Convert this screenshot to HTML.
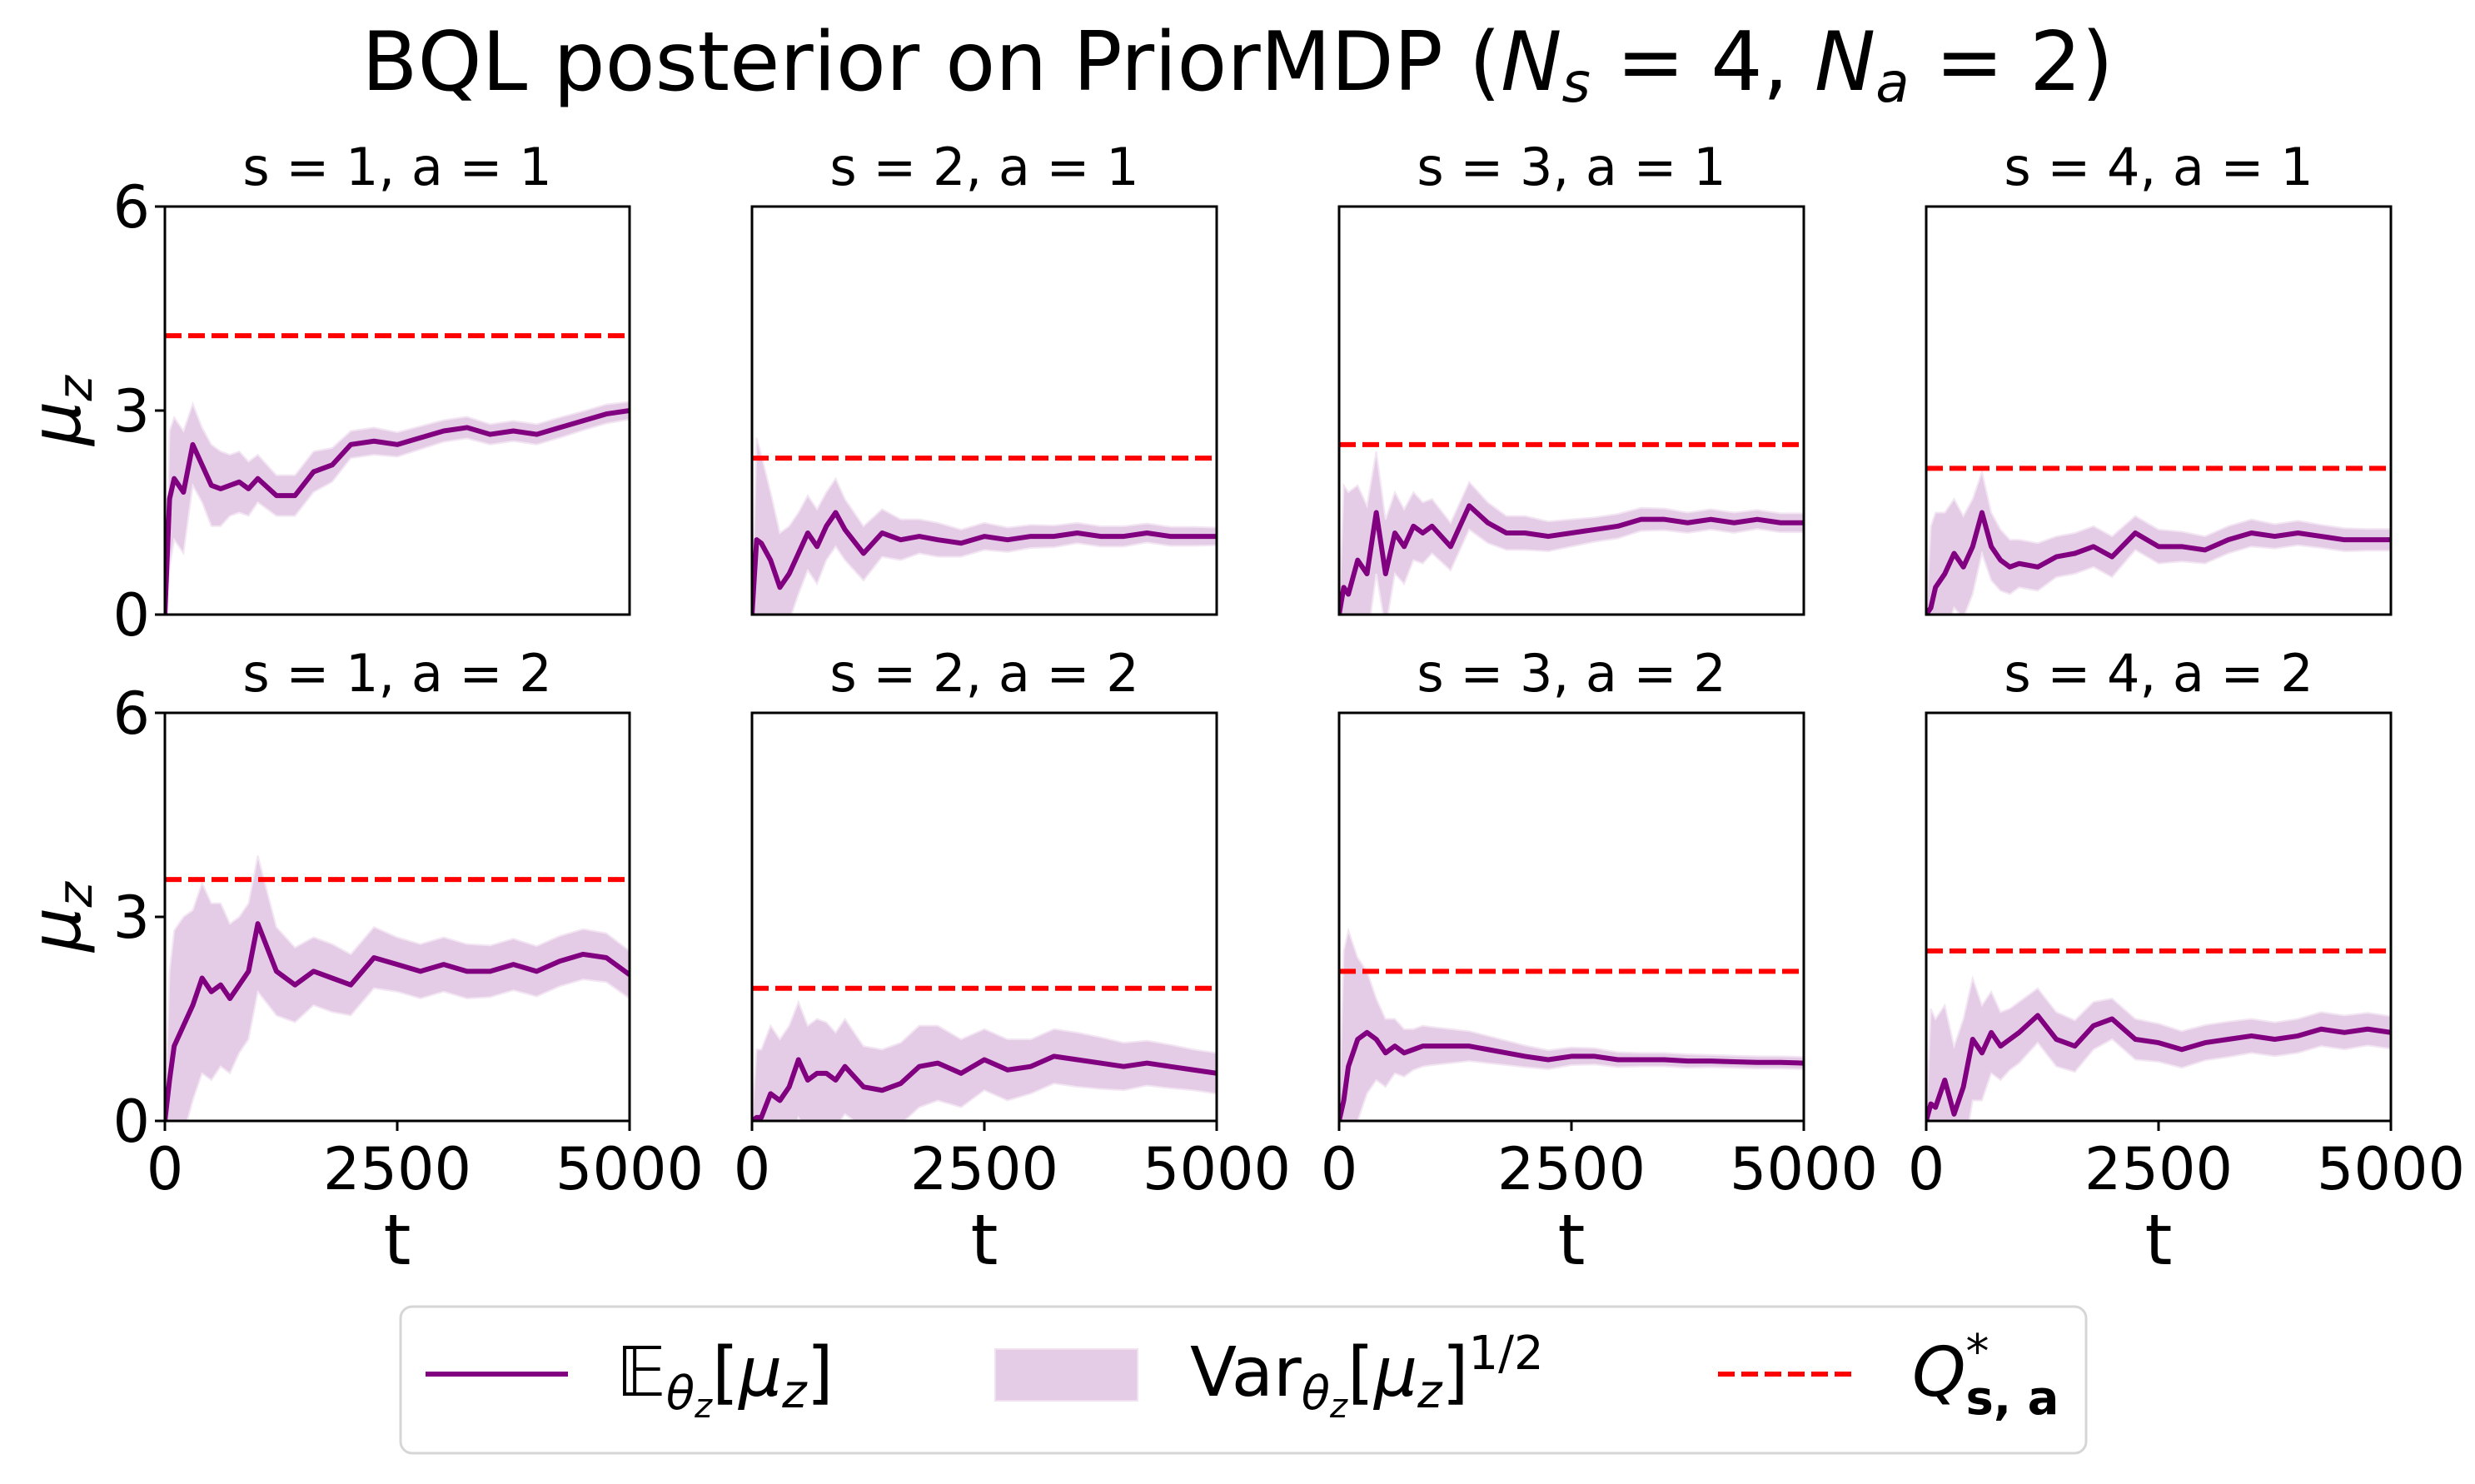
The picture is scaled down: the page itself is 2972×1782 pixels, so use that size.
<!DOCTYPE html>
<html><head><meta charset="utf-8"><style>
html,body{margin:0;padding:0;background:#fff}
svg{display:block;font-family:"DejaVu Sans","Liberation Sans",sans-serif}
</style></head><body>
<svg id="fig" width="2972" height="1782" viewBox="0 0 2972 1782">
<text x="1486" y="108" font-size="98" text-anchor="middle">BQL posterior on PriorMDP (<tspan font-style="italic">N</tspan><tspan font-style="italic" font-size="66" dy="14">s</tspan><tspan dy="-14"> = 4, </tspan><tspan font-style="italic">N</tspan><tspan font-style="italic" font-size="66" dy="14">a</tspan><tspan dy="-14"> = 2)</tspan></text>
<g id="panels"></g>
<g>
<rect x="481" y="1569" width="2024" height="176" rx="14" fill="#fff" stroke="#d6d6d6" stroke-width="3"/>
<line x1="511" y1="1650" x2="682" y2="1650" stroke="#800080" stroke-width="6"/>
<text x="740" y="1676" font-size="82"><tspan font-style="italic">𝔼</tspan><tspan font-style="italic" font-size="56" dy="16">θ</tspan><tspan font-style="italic" font-size="40" dy="10">z</tspan><tspan dy="-26">[</tspan><tspan font-style="italic">μ</tspan><tspan font-style="italic" font-size="56" dy="14">z</tspan><tspan dy="-14">]</tspan></text>
<rect x="1195" y="1620" width="171" height="62" fill="#e5cce6" stroke="#f0e0f0" stroke-width="2"/>
<text x="1429" y="1676" font-size="82">Var<tspan font-style="italic" font-size="56" dy="16">θ</tspan><tspan font-style="italic" font-size="40" dy="10">z</tspan><tspan dy="-26">[</tspan><tspan font-style="italic">μ</tspan><tspan font-style="italic" font-size="56" dy="14">z</tspan><tspan dy="-14">]</tspan><tspan font-size="56" dy="-32">1/2</tspan></text>
<line x1="2063" y1="1650" x2="2229" y2="1650" stroke="#ff0000" stroke-width="6" stroke-dasharray="20,8"/>
<text x="2296" y="1676" font-size="82"><tspan font-style="italic">Q</tspan><tspan font-size="56" dy="-34">*</tspan><tspan font-size="56" font-weight="bold" dx="-28" dy="56">s, a</tspan></text>
</g>
</svg>
<script>
const times = [0,50,100,200,300,400,500,600,700,800,900,1000,1200,1400,1600,1800,2000,2250,2500,2750,3000,3250,3500,3750,4000,4250,4500,4750,5000];
const panelTitles = ["s = 1, a = 1","s = 2, a = 1","s = 3, a = 1","s = 4, a = 1","s = 1, a = 2","s = 2, a = 2","s = 3, a = 2","s = 4, a = 2"];
const qStar = [4.1,2.3,2.5,2.15,3.55,1.95,2.2,2.5];
const mean1 = [0,1.7,2.0,1.8,2.5,2.2,1.9,1.85,1.9,1.95,1.85,2.0,1.75,1.75,2.1,2.2,2.5,2.55,2.5,2.6,2.7,2.75,2.65,2.7,2.65,2.75,2.85,2.95,3.0];
const sd1 = [0,1.0,0.9,0.9,0.6,0.55,0.6,0.55,0.45,0.45,0.4,0.35,0.3,0.3,0.3,0.25,0.2,0.2,0.18,0.17,0.16,0.16,0.15,0.15,0.15,0.15,0.14,0.14,0.13];
const mean2 = [0,1.1,1.05,0.8,0.4,0.6,0.9,1.2,1.0,1.3,1.5,1.25,0.9,1.2,1.1,1.15,1.1,1.05,1.15,1.1,1.15,1.15,1.2,1.15,1.15,1.2,1.15,1.15,1.15];
const sd2 = [0,1.5,1.3,1.0,0.8,0.7,0.6,0.55,0.55,0.5,0.5,0.45,0.4,0.35,0.3,0.25,0.25,0.2,0.2,0.18,0.17,0.16,0.15,0.15,0.15,0.14,0.14,0.14,0.13];
const mean3 = [0,0.4,0.3,0.8,0.6,1.5,0.6,1.2,1.0,1.3,1.2,1.3,1.0,1.6,1.35,1.2,1.2,1.15,1.2,1.25,1.3,1.4,1.4,1.35,1.4,1.35,1.4,1.35,1.35];
const sd3 = [0,1.5,1.5,1.1,1.0,0.9,0.8,0.6,0.55,0.5,0.45,0.4,0.35,0.35,0.3,0.25,0.25,0.22,0.2,0.18,0.18,0.17,0.16,0.15,0.15,0.15,0.14,0.14,0.14];
const mean4 = [0,0.1,0.4,0.6,0.9,0.7,1.0,1.5,1.0,0.8,0.7,0.75,0.7,0.85,0.9,1.0,0.85,1.2,1.0,1.0,0.95,1.1,1.2,1.15,1.2,1.15,1.1,1.1,1.1];
const sd4 = [0,1.2,1.1,0.9,0.8,0.75,0.7,0.6,0.5,0.45,0.4,0.35,0.35,0.3,0.3,0.3,0.3,0.25,0.25,0.22,0.2,0.2,0.2,0.18,0.18,0.17,0.17,0.16,0.16];
const mean5 = [0,0.6,1.1,1.4,1.7,2.1,1.9,2.0,1.8,2.0,2.2,2.9,2.2,2.0,2.2,2.1,2.0,2.4,2.3,2.2,2.3,2.2,2.2,2.3,2.2,2.35,2.45,2.4,2.15];
const sd5 = [0,1.6,1.7,1.6,1.4,1.4,1.3,1.2,1.1,1.0,1.0,1.0,0.65,0.55,0.5,0.5,0.45,0.45,0.4,0.4,0.4,0.4,0.38,0.38,0.37,0.37,0.37,0.36,0.35];
const mean6 = [0,0.05,0.05,0.4,0.3,0.5,0.9,0.6,0.7,0.7,0.6,0.8,0.5,0.45,0.55,0.8,0.85,0.7,0.9,0.75,0.8,0.95,0.9,0.85,0.8,0.85,0.8,0.75,0.7];
const sd6 = [0,1.0,1.0,1.0,0.9,0.9,0.85,0.8,0.8,0.75,0.7,0.7,0.6,0.6,0.6,0.6,0.55,0.5,0.45,0.45,0.4,0.4,0.4,0.38,0.35,0.33,0.32,0.3,0.3];
const mean7 = [0,0.3,0.8,1.2,1.3,1.2,1.0,1.1,1.0,1.05,1.1,1.1,1.1,1.1,1.05,1.0,0.95,0.9,0.95,0.95,0.9,0.9,0.9,0.88,0.88,0.87,0.86,0.86,0.85];
const sd7 = [0,2.2,2.0,1.2,0.9,0.6,0.5,0.4,0.35,0.3,0.3,0.28,0.25,0.22,0.2,0.18,0.16,0.14,0.13,0.12,0.11,0.1,0.1,0.1,0.09,0.09,0.09,0.09,0.09];
const mean8 = [0,0.25,0.2,0.6,0.1,0.5,1.2,1.0,1.3,1.1,1.2,1.3,1.55,1.2,1.1,1.4,1.5,1.2,1.15,1.05,1.15,1.2,1.25,1.2,1.25,1.35,1.3,1.35,1.3];
const sd8 = [0,1.4,1.3,1.1,1.0,1.0,0.9,0.7,0.6,0.5,0.45,0.45,0.4,0.4,0.38,0.35,0.3,0.3,0.28,0.27,0.26,0.26,0.25,0.25,0.25,0.25,0.25,0.24,0.24];
const yTicks = [0,3,6];
const xTicks = [0,2500,5000];
const xTickLabels = ["0","2500","5000"];

const means=[mean1,mean2,mean3,mean4,mean5,mean6,mean7,mean8];
const sds=[sd1,sd2,sd3,sd4,sd5,sd6,sd7,sd8];
const NS="http://www.w3.org/2000/svg";
const root=document.getElementById('panels');
function mk(tag,attrs,parent){const e=document.createElementNS(NS,tag);for(const k in attrs)e.setAttribute(k,attrs[k]);parent.appendChild(e);return e;}
const lefts=[198,903,1608,2313], W=558, tops=[248,856], H=490;
for(let p=0;p<8;p++){
  const col=p%4,row=Math.floor(p/4);
  const L=lefts[col],T=tops[row];
  const sx=t=>L+t/5000*W, sy=v=>T+H-v/6*H;
  const g=mk('g',{},root);
  
  
  const cp=mk('clipPath',{id:'cp'+p},g);mk('rect',{x:L,y:T,width:W,height:H},cp);
  const inner=mk('g',{'clip-path':'url(#cp'+p+')'},g);
  const m=means[p],s=sds[p];
  let up=times.map((t,i)=>sx(t)+','+sy(m[i]+s[i]));
  let lo=times.map((t,i)=>sx(t)+','+sy(m[i]-s[i])).reverse();
  const band=mk('polygon',{points:up.concat(lo).join(' '),fill:'#e5cce6',stroke:'#f3e6f3','stroke-width':2},inner);
  
  
  const q=mk('line',{x1:L,x2:L+W,y1:sy(qStar[p]),y2:sy(qStar[p]),stroke:'#ff0000','stroke-width':6,'stroke-dasharray':'20,8'},inner);
  
  
  const ml=mk('polyline',{points:times.map((t,i)=>sx(t)+','+sy(m[i])).join(' '),fill:'none',stroke:'#800080','stroke-width':6,'stroke-linejoin':'round'},inner);
  
  
  const fr=mk('rect',{x:L,y:T,width:W,height:H,fill:'none',stroke:'#000','stroke-width':3},g);
  
  
  const ti=mk('text',{x:L+W/2,y:T-26,'font-size':62,'text-anchor':'middle'},g);ti.textContent=panelTitles[p];
  
  
  if(col===0){
    yTicks.forEach(v=>{
      mk('line',{x1:L-12,x2:L,y1:sy(v),y2:sy(v),stroke:'#000','stroke-width':3},g);
      const tl=mk('text',{x:L-18,y:sy(v)+25,'font-size':70,'text-anchor':'end'},g);tl.textContent=v;
      
      
    });
    const yl=mk('text',{transform:'translate(96,'+(T+H/2)+') rotate(-90)','font-size':84,'text-anchor':'middle','font-style':'italic'},g);
    yl.innerHTML='μ<tspan font-size="58" dy="14">z</tspan>';
    
    
  }
  if(row===1){
    xTicks.forEach((v,i)=>{
      mk('line',{x1:sx(v),x2:sx(v),y1:T+H,y2:T+H+12,stroke:'#000','stroke-width':3},g);
      const tl=mk('text',{x:sx(v),y:T+H+82,'font-size':70,'text-anchor':'middle'},g);tl.textContent=xTickLabels[i];
      
      
    });
    const xl=mk('text',{x:L+W/2,y:T+H+172,'font-size':84,'text-anchor':'middle'},g);xl.textContent='t';
    
    
  }
}
</script>
</body></html>
